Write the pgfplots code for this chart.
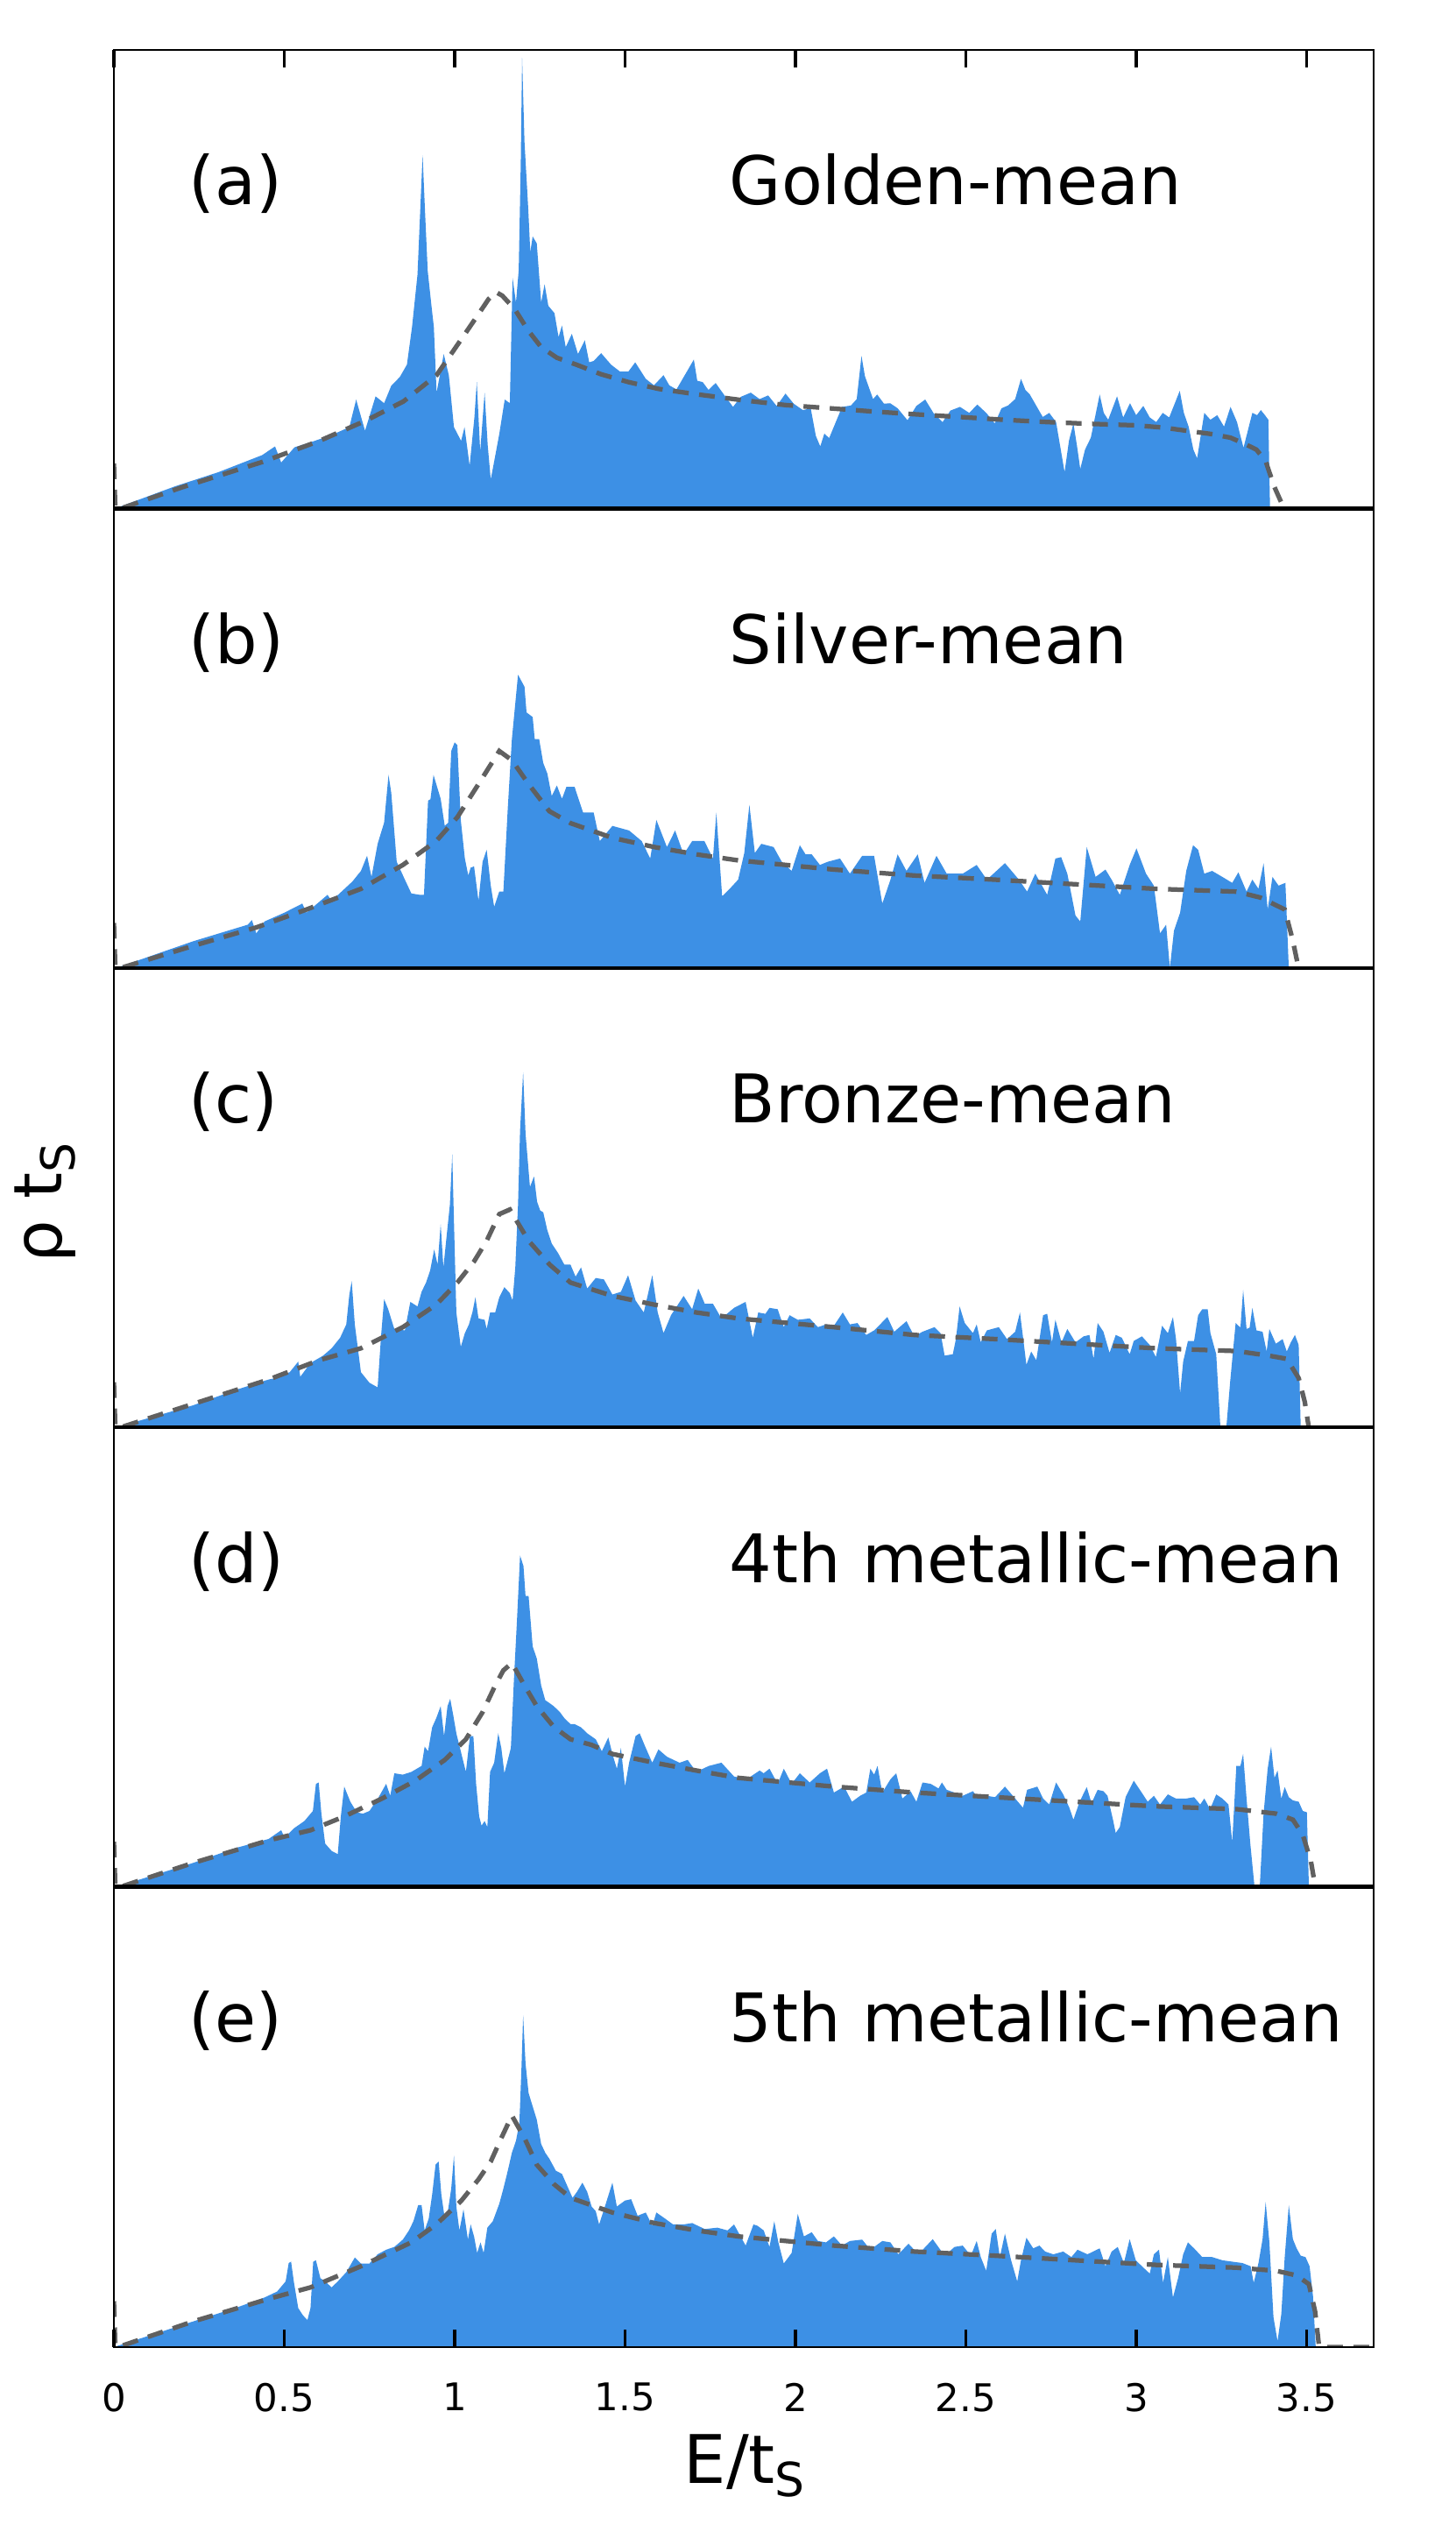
\documentclass[border=0pt]{standalone}
\usepackage{fontspec}
\setmainfont{DejaVu Sans}
\usepackage{pgfplots}
\usepackage{pgfplotstable}
\pgfplotsset{compat=1.18}

\definecolor{dosblue}{RGB}{61,144,229}
\definecolor{avggray}{RGB}{96,96,96}

% ---- panel (a) golden-mean ----
\pgfplotstableread{
x y
0 0
0.015 0.5
0.179 5.0
0.307 8.1
0.435 11.8
0.473 13.7
0.491 10.2
0.53 13.5
0.589 14.9
0.64 16.2
0.691 17.9
0.711 23.9
0.737 17.1
0.768 24.6
0.793 23.1
0.814 26.9
0.839 28.8
0.860 31.5
0.875 39.7
0.891 51.1
0.899 65
0.906 77.1
0.913 65
0.921 51.9
0.932 44.3
0.939 39.7
0.947 25.4
0.968 33.8
0.983 29.2
0.998 17.9
1.019 14.9
1.029 17.9
1.044 9.5
1.058 20
1.065 27.7
1.075 12.6
1.088 25.4
1.097 14
1.106 6.5
1.12 12
1.131 16.4
1.147 23.9
1.162 23.1
1.170 50.4
1.180 45
1.188 52
1.194 75
1.198 98.3
1.205 80
1.216 65.4
1.222 56
1.229 59.4
1.241 57.9
1.254 45.0
1.264 49
1.275 44.3
1.293 42.7
1.305 37.5
1.315 40
1.326 35.3
1.344 38.2
1.362 33.8
1.382 36.8
1.395 32
1.408 32.3
1.43 34
1.459 31.5
1.485 30
1.510 30.0
1.53 32
1.561 28.4
1.585 27
1.613 29.2
1.63 27
1.651 26.1
1.702 32.6
1.712 28
1.728 27.7
1.745 26
1.766 27.5
1.79 25
1.817 22.3
1.84 24.5
1.869 25.4
1.895 24
1.920 24.8
1.945 22.5
1.971 25.2
1.995 23
2.022 21.6
2.045 22
2.06 16
2.073 13.7
2.085 16.5
2.099 15.5
2.137 22.3
2.163 22.6
2.18 24
2.194 33.4
2.204 29
2.214 26.9
2.228 24
2.240 25
2.26 23
2.278 23.1
2.30 22
2.329 19.4
2.355 22.5
2.381 23.9
2.405 21
2.432 19
2.455 21.5
2.483 22.3
2.51 21
2.534 22.8
2.56 21
2.585 18.7
2.605 22
2.624 22.6
2.645 24
2.662 28.4
2.675 26
2.688 25
2.726 20.1
2.745 21
2.765 19
2.790 8.1
2.803 15
2.816 18.7
2.826 14
2.836 8.8
2.85 13
2.867 15.6
2.893 25.0
2.905 21
2.918 19.5
2.944 24.6
2.962 20
2.982 23.1
3.0 20.5
3.021 22.5
3.04 20
3.059 19
3.078 21
3.097 20
3.128 25.8
3.14 21
3.154 18
3.168 13
3.179 11.1
3.200 21.0
3.218 19.5
3.238 20.5
3.258 18
3.277 22.3
3.296 19
3.315 13.4
3.341 21
3.355 20.5
3.366 21.6
3.378 20.5
3.388 19.5
3.393 0
}\dosA
\pgfplotstableread{
x y
0 10
0.004 0.5
0.013 0
0.2 4.8
0.435 10.3
0.6 14.8
0.742 19.4
0.85 23.5
0.947 29.2
1.024 37.5
1.07 42.5
1.10 45.8
1.121 47.3
1.14 46.5
1.177 43.5
1.215 39
1.254 35.3
1.30 33
1.357 31.5
1.43 29.4
1.510 27.7
1.6 26.2
1.715 25.0
1.84 23.8
1.971 22.7
2.1 22
2.227 21.3
2.35 20.7
2.483 20.1
2.61 19.5
2.739 19.0
2.87 18.6
2.995 18.3
3.08 17.8
3.149 17.1
3.22 16.4
3.277 15.6
3.32 14.2
3.353 13.0
3.38 10.5
3.405 5
3.435 0
3.697 0
}\avgA

% ---- panel (b) silver-mean ----
\pgfplotstableread{
x y
0 0
0.012 0.3
0.233 6.0
0.393 9.6
0.405 10.6
0.418 7.7
0.442 10.3
0.50 12.2
0.553 14.2
0.565 12.2
0.627 16.1
0.639 14.8
0.70 19.0
0.725 21.3
0.743 24.6
0.756 20.0
0.774 27.2
0.793 31.8
0.806 42.2
0.814 38.3
0.83 23.3
0.854 19.4
0.873 16.4
0.897 16.1
0.91 16.1
0.922 36.6
0.929 36.9
0.938 42.2
0.959 37.0
0.971 31.1
0.981 31.8
0.99 47.4
1.0 49.3
1.008 48.7
1.018 32.4
1.03 24.0
1.04 20.3
1.047 22.0
1.057 22.3
1.07 14.8
1.082 23.3
1.094 25.9
1.106 18.1
1.116 13.5
1.131 16.8
1.143 16.8
1.156 35.0
1.168 50.0
1.186 64.0
1.205 61.4
1.211 55.8
1.229 54.8
1.235 50.0
1.248 50.0
1.26 44.8
1.272 42.5
1.285 37.6
1.3 39.9
1.315 37.0
1.328 39.6
1.352 39.6
1.377 34.0
1.408 34.0
1.426 27.8
1.463 31.1
1.512 30.1
1.549 27.8
1.574 24.0
1.592 32.4
1.623 26.5
1.647 30.1
1.672 24.9
1.697 27.8
1.733 27.8
1.758 24.0
1.768 34.0
1.785 15.8
1.807 17.4
1.832 19.4
1.85 25.2
1.865 35.7
1.881 25.2
1.9 27.2
1.936 26.5
1.96 23.3
1.989 21.3
2.013 26.9
2.03 24.9
2.048 24.9
2.072 22.6
2.095 23.3
2.131 24.0
2.16 20.7
2.196 24.6
2.231 24.6
2.255 14.2
2.279 19.4
2.3 24.9
2.326 21.3
2.359 24.9
2.379 18.7
2.414 24.6
2.444 20.7
2.491 20.7
2.532 22.6
2.562 19.4
2.615 23.0
2.656 19.4
2.68 16.8
2.704 20.7
2.739 16.1
2.763 24.0
2.78 24.3
2.798 20.7
2.822 11.6
2.836 10.3
2.855 26.5
2.881 20.0
2.91 21.6
2.928 19.4
2.952 16.1
2.981 22.6
3.001 26.2
3.029 20.7
3.052 18.1
3.07 7.7
3.088 9.6
3.099 0.2
3.111 8.3
3.129 12.2
3.147 21.3
3.167 26.9
3.182 25.9
3.2 20.7
3.223 21.3
3.253 20.0
3.282 18.7
3.3 21.0
3.324 16.8
3.341 19.4
3.359 17.4
3.374 23.0
3.386 12.9
3.4 20.0
3.418 18.1
3.438 18.7
3.448 0
}\dosB
\pgfplotstableread{
x y
0 10
0.004 0.5
0.012 0
0.233 5.0
0.418 9.0
0.565 12.9
0.725 17.4
0.848 22.6
0.946 27.8
1.008 33.0
1.07 40.2
1.131 47.4
1.168 45.4
1.217 40.2
1.278 34.3
1.34 31.7
1.463 28.5
1.586 26.5
1.71 24.9
1.832 23.6
2.113 21.6
2.35 20.3
2.586 19.4
2.821 18.4
3.058 17.4
3.294 16.8
3.365 15.5
3.436 12.9
3.459 6.4
3.477 0
3.697 0
}\avgB

% ---- panel (c) bronze-mean ----
\pgfplotstableread{
x y
0 0
0.012 0.3
0.233 5.0
0.356 8.3
0.454 10.6
0.473 10.9
0.516 12.2
0.541 14.5
0.547 11.2
0.577 14.2
0.614 15.8
0.639 17.4
0.664 19.7
0.682 22.6
0.691 29.1
0.698 32.0
0.707 22.6
0.725 12.2
0.75 9.9
0.774 8.9
0.784 20.0
0.793 28.1
0.805 25.9
0.823 21.6
0.854 21.3
0.87 27.5
0.891 26.5
0.903 29.7
0.916 31.7
0.928 34.3
0.94 38.9
0.95 35.6
0.959 44.4
0.967 35.0
0.977 42.2
0.986 48.6
0.993 59.6
0.998 45
1.005 25.2
1.018 17.7
1.03 20.7
1.042 22.6
1.052 25.2
1.061 28.5
1.07 23.9
1.088 23.6
1.094 21.6
1.104 25.2
1.119 25.2
1.131 28.5
1.146 30.7
1.162 29.4
1.17 27.8
1.178 35.0
1.186 48.6
1.192 64.8
1.201 77.5
1.208 64.2
1.221 52.5
1.233 54.8
1.242 49.3
1.251 47.4
1.26 47.0
1.272 43.1
1.285 40.2
1.303 38.2
1.322 35.6
1.34 35.6
1.355 33.0
1.371 35.0
1.389 30.4
1.414 32.7
1.438 32.4
1.463 29.1
1.488 29.7
1.509 33.3
1.531 27.8
1.555 25.2
1.58 33.3
1.596 25.2
1.613 20.7
1.635 24.6
1.672 28.8
1.697 25.9
1.715 30.4
1.734 27.1
1.758 27.1
1.783 23.9
1.82 26.2
1.854 27.5
1.875 19.7
1.891 25.2
1.912 24.9
1.924 26.2
1.948 25.9
1.966 22.0
1.983 24.6
2.007 23.6
2.042 23.9
2.066 22.0
2.09 22.6
2.113 22.3
2.139 25.2
2.16 22.6
2.182 22.9
2.208 20.3
2.231 21.3
2.27 24.2
2.29 21.0
2.326 23.3
2.349 20.0
2.373 21.0
2.408 22.0
2.426 20.7
2.438 15.8
2.462 16.1
2.471 19.4
2.482 26.5
2.497 22.9
2.521 20.7
2.532 22.6
2.544 18.7
2.562 21.3
2.597 22.0
2.621 19.4
2.645 21.0
2.659 25.2
2.678 13.8
2.692 16.7
2.707 14.8
2.727 24.6
2.739 24.9
2.753 18.7
2.763 23.6
2.781 18.7
2.798 21.6
2.822 18.7
2.846 20.0
2.863 20.3
2.875 15.1
2.887 22.9
2.904 21.0
2.922 16.4
2.94 20.3
2.958 19.7
2.981 16.1
2.993 19.0
3.017 20.0
3.04 18.1
3.058 15.5
3.076 22.3
3.093 20.7
3.108 24.2
3.117 19.4
3.129 7.6
3.138 14.5
3.152 19.0
3.17 19.0
3.182 24.6
3.194 25.9
3.21 25.9
3.218 20.7
3.235 16.1
3.247 0.5
3.265 0.5
3.276 10.2
3.292 22.9
3.306 21.9
3.314 30.1
3.324 21.6
3.333 21.9
3.341 26.2
3.353 21.3
3.371 21.0
3.383 16.7
3.391 21.6
3.41 18.4
3.43 19.4
3.442 16.7
3.454 18.7
3.466 20.3
3.477 18.1
3.483 0
}\dosC
\pgfplotstableread{
x y
0 10
0.004 0.5
0.012 0
0.233 5.3
0.454 10.6
0.602 14.8
0.725 17.4
0.848 22.0
0.946 26.9
1.008 31.7
1.057 36.3
1.094 40.8
1.131 46.6
1.162 47.6
1.217 40.8
1.279 35.6
1.34 31.7
1.463 28.8
1.586 26.9
1.709 25.2
1.832 23.9
2.113 22.0
2.35 20.3
2.586 19.4
2.822 18.4
3.058 17.4
3.294 16.8
3.389 15.8
3.442 15.1
3.477 10.9
3.495 5.7
3.507 0
3.697 0
}\avgC

% ---- panel (d) 4th metallic-mean ----
\pgfplotstableread{
x y
0 0
0.012 0.3
0.233 5.4
0.356 8.6
0.454 10.6
0.491 12.5
0.501 10.9
0.528 12.9
0.559 14.5
0.584 16.7
0.593 22.6
0.601 22.9
0.609 16.1
0.62 9.6
0.639 8.0
0.657 7.3
0.666 15.5
0.676 22.0
0.694 18.7
0.713 16.4
0.731 16.1
0.75 16.7
0.774 19.3
0.799 22.6
0.811 20.0
0.823 24.9
0.848 24.6
0.873 25.2
0.903 26.5
0.912 30.7
0.922 29.7
0.934 34.9
0.946 36.9
0.959 39.5
0.969 33.0
0.979 39.5
0.987 41.1
0.996 37.5
1.005 33.6
1.02 29.1
1.033 25.2
1.045 33.0
1.055 33.0
1.063 22.6
1.072 15.5
1.079 13.5
1.088 14.5
1.096 13.2
1.104 25.2
1.116 27.2
1.128 33.6
1.137 30.4
1.146 24.9
1.156 27.8
1.165 30.4
1.174 45.3
1.183 58.3
1.192 72.3
1.202 70.0
1.208 63.5
1.217 63.5
1.229 52.5
1.241 49.9
1.254 44.0
1.266 40.8
1.278 40.2
1.291 39.5
1.309 38.2
1.322 36.9
1.34 35.6
1.352 35.6
1.371 34.9
1.389 33.6
1.414 32.3
1.432 29.7
1.451 32.7
1.463 29.1
1.476 25.9
1.488 30.4
1.5 22.0
1.512 27.2
1.531 33.0
1.543 33.6
1.561 30.4
1.58 27.2
1.598 30.1
1.623 28.5
1.66 27.2
1.684 27.8
1.709 25.2
1.746 26.5
1.783 27.2
1.82 24.2
1.857 23.6
1.877 24.6
1.895 25.5
1.907 24.9
1.924 25.9
1.948 22.6
1.966 25.9
1.989 22.6
2.013 24.9
2.042 22.9
2.072 24.9
2.093 25.9
2.113 20.7
2.143 22.0
2.166 18.7
2.19 20.0
2.208 20.7
2.22 25.9
2.231 24.6
2.241 26.5
2.255 20.7
2.279 23.6
2.296 24.9
2.314 19.4
2.338 21.0
2.355 18.7
2.373 22.9
2.397 22.6
2.42 21.6
2.43 22.9
2.444 21.3
2.467 20.7
2.491 20.0
2.521 21.0
2.538 19.4
2.562 20.0
2.586 19.7
2.615 22.0
2.645 19.4
2.668 17.4
2.68 21.3
2.71 22.0
2.727 19.4
2.745 18.1
2.765 22.9
2.786 20.3
2.804 17.4
2.816 14.8
2.834 18.7
2.855 21.9
2.869 18.4
2.887 21.3
2.904 21.0
2.916 20.0
2.932 14.8
2.94 11.9
2.952 13.2
2.969 19.7
2.993 23.3
3.011 21.3
3.034 18.7
3.052 20.0
3.07 18.1
3.093 20.3
3.117 19.4
3.147 19.4
3.17 19.7
3.188 18.1
3.2 19.4
3.217 17.1
3.235 20.3
3.253 19.4
3.271 18.1
3.282 9.9
3.294 26.5
3.306 26.5
3.314 29.1
3.324 19.4
3.335 9.6
3.347 0.5
3.363 0.5
3.374 16.1
3.386 25.9
3.396 30.7
3.406 23.9
3.415 25.5
3.426 19.4
3.436 21.9
3.448 19.7
3.46 19.0
3.477 18.7
3.489 16.7
3.501 16.4
3.507 0
}\dosD
\pgfplotstableread{
x y
0 10
0.004 0.5
0.012 0
0.233 5.4
0.454 10.3
0.577 12.5
0.676 15.5
0.787 19.4
0.885 23.3
0.971 27.8
1.033 32.3
1.082 38.2
1.119 44.0
1.143 47.3
1.168 48.9
1.205 44.0
1.241 39.5
1.291 35.0
1.34 32.3
1.401 31.1
1.463 29.1
1.586 27.2
1.709 25.5
1.832 23.9
2.113 22.0
2.35 20.7
2.586 19.7
2.822 18.7
3.058 17.7
3.294 17.1
3.412 16.1
3.46 14.8
3.489 11.5
3.513 5.7
3.525 0.5
3.53 0
3.697 0
}\avgD

% ---- panel (e) 5th metallic-mean ----
\pgfplotstableread{
x y
0 0
0.012 0.3
0.233 5.6
0.356 8.5
0.442 10.8
0.479 12.1
0.504 14.3
0.513 18.3
0.52 18.6
0.528 14.3
0.541 8.5
0.555 6.9
0.568 5.9
0.577 8.5
0.585 18.6
0.593 18.9
0.606 15.0
0.62 14.3
0.639 13.0
0.657 14.3
0.682 16.3
0.707 19.5
0.725 18.2
0.75 18.2
0.774 20.2
0.799 21.2
0.823 21.8
0.848 23.4
0.866 25.4
0.879 27.4
0.893 30.9
0.903 30.9
0.912 25.4
0.924 28.0
0.934 33.2
0.944 39.7
0.953 40.4
0.961 33.2
0.971 28.0
0.981 30.0
0.99 34.5
0.998 41.7
1.005 30.6
1.014 25.4
1.026 30.0
1.039 23.4
1.047 26.7
1.057 24.1
1.066 20.5
1.076 22.8
1.085 20.5
1.096 26.0
1.112 27.4
1.131 31.2
1.143 34.5
1.156 38.4
1.168 42.3
1.18 44.9
1.19 48.8
1.196 60.5
1.201 72.2
1.208 61.8
1.217 55.3
1.229 52.4
1.241 49.5
1.254 44.2
1.266 42.3
1.278 41.0
1.297 38.4
1.315 37.7
1.334 34.5
1.346 32.5
1.359 33.8
1.375 35.8
1.389 33.8
1.402 30.6
1.414 29.6
1.424 26.7
1.438 29.9
1.463 35.8
1.476 30.6
1.5 31.9
1.518 32.2
1.537 28.6
1.561 29.3
1.58 26.4
1.592 29.3
1.617 28.0
1.641 26.7
1.672 26.7
1.697 27.0
1.734 25.7
1.771 26.0
1.801 25.4
1.82 26.7
1.854 22.1
1.877 26.7
1.889 26.4
1.907 25.4
1.924 21.8
1.938 27.4
1.95 22.8
1.966 18.2
1.989 20.5
2.007 29.0
2.025 24.1
2.048 25.0
2.066 23.1
2.09 22.8
2.113 24.1
2.137 22.1
2.16 23.1
2.196 23.4
2.22 21.2
2.255 23.1
2.279 22.8
2.302 20.2
2.332 22.5
2.361 20.2
2.403 23.5
2.438 19.9
2.467 21.8
2.491 22.1
2.515 19.9
2.532 23.1
2.544 19.6
2.56 16.6
2.576 24.7
2.588 25.7
2.6 19.6
2.615 24.7
2.633 18.9
2.651 14.3
2.662 18.9
2.678 23.8
2.698 21.5
2.716 22.1
2.733 20.8
2.757 20.2
2.786 20.8
2.81 19.6
2.828 21.2
2.857 20.2
2.893 21.5
2.91 17.6
2.928 20.8
2.946 21.8
2.964 18.3
2.981 23.5
2.999 18.9
3.017 17.6
3.04 16.0
3.052 20.2
3.067 21.2
3.079 14.0
3.093 19.6
3.108 10.8
3.123 15.0
3.138 20.2
3.152 22.8
3.17 21.5
3.194 19.6
3.223 19.6
3.253 18.9
3.282 18.6
3.312 18.3
3.336 17.6
3.345 14.0
3.359 18.3
3.371 23.5
3.38 31.6
3.391 22.8
3.403 6.5
3.415 1.3
3.426 7.2
3.436 19.6
3.448 30.9
3.46 23.5
3.471 21.5
3.483 19.9
3.497 19.6
3.509 17.6
3.519 11.1
3.527 0
}\dosE
\pgfplotstableread{
x y
0 10
0.004 0.5
0.012 0
0.233 5.6
0.454 10.5
0.577 13.0
0.725 17.6
0.873 22.8
0.946 26.7
1.02 31.9
1.07 36.5
1.106 40.4
1.137 45.5
1.168 50.4
1.205 45.5
1.241 39.7
1.291 35.5
1.34 32.5
1.401 30.9
1.463 29.3
1.586 27.0
1.709 25.4
1.832 24.1
2.113 22.1
2.35 20.8
2.586 19.9
2.822 18.9
3.058 17.9
3.294 17.3
3.412 16.6
3.471 15.6
3.507 13.7
3.525 7.8
3.536 0.7
3.54 0
3.697 0
}\avgE

\pgfplotsset{
  panel/.style={
    scale only axis, width=287.6pt, height=104.88pt,
    anchor=south west,
    xmin=0, xmax=3.697, ymin=0, ymax=100,
    ytick=\empty, xtick=\empty,
    tick align=inside, major tick length=4pt,
    axis line style={line width=0.5pt},
    xtick style={draw=black, line width=0.65pt},
    axis on top,
  },
  dos/.style={fill=dosblue, draw=none},
  avg/.style={avggray, line width=1.05pt, dash pattern=on 3.6pt off 2.4pt},
}
\tikzset{lbl/.style={anchor=base west, inner sep=0pt, font=\fontsize{15.3}{18}\selectfont}}
\newcommand{\xt}{0,0.5,1,1.5,2,2.5,3,3.5}

\begin{document}
\begin{tikzpicture}
% (a)
\begin{axis}[panel, at={(0,419.52pt)}, xtick=\xt, xticklabels=\empty, xtick pos=top]
\addplot[dos] table {\dosA} \closedcycle;
\addplot[avg] table {\avgA};
\draw[line width=1.3pt] (rel axis cs:0,0) -- (rel axis cs:1,0);
\node[lbl] at (rel axis cs:0.059,0.664) {(a)};
\node[lbl] at (rel axis cs:0.488,0.664) {Golden-mean};
\end{axis}
% (b)
\begin{axis}[panel, at={(0,314.64pt)}]
\addplot[dos] table {\dosB} \closedcycle;
\addplot[avg] table {\avgB};
\draw[line width=1.3pt] (rel axis cs:0,0) -- (rel axis cs:1,0);
\node[lbl] at (rel axis cs:0.059,0.664) {(b)};
\node[lbl] at (rel axis cs:0.488,0.664) {Silver-mean};
\end{axis}
% (c)
\begin{axis}[panel, at={(0,209.76pt)}]
\addplot[dos] table {\dosC} \closedcycle;
\addplot[avg] table {\avgC};
\draw[line width=1.3pt] (rel axis cs:0,0) -- (rel axis cs:1,0);
\node[lbl] at (rel axis cs:0.059,0.664) {(c)};
\node[lbl] at (rel axis cs:0.488,0.664) {Bronze-mean};
\end{axis}
% (d)
\begin{axis}[panel, at={(0,104.88pt)}]
\addplot[dos] table {\dosD} \closedcycle;
\addplot[avg] table {\avgD};
\draw[line width=1.3pt] (rel axis cs:0,0) -- (rel axis cs:1,0);
\node[lbl] at (rel axis cs:0.059,0.664) {(d)};
\node[lbl] at (rel axis cs:0.488,0.664) {4th metallic-mean};
\end{axis}
% (e)
\begin{axis}[panel, at={(0,0pt)}, xtick=\xt, xtick pos=bottom,
    xticklabel style={font=\fontsize{8.7}{10}\selectfont, yshift=-4.7pt},
    /pgf/number format/assume math mode=true]
\addplot[dos] table {\dosE} \closedcycle;
\addplot[avg] table {\avgE};
\node[lbl] at (rel axis cs:0.059,0.664) {(e)};
\node[lbl] at (rel axis cs:0.488,0.664) {5th metallic-mean};
\end{axis}
\node[anchor=base, font=\fontsize{15.3}{18}\selectfont] at (144.2pt,-31.2pt) {E/t\textsubscript{S}};
\node[rotate=90, font=\fontsize{15.3}{18}\selectfont] at (-15.6pt,261.4pt) {ρ t\textsubscript{S}};
\pgfresetboundingbox
\path[use as bounding box] (-26pt,-45.4pt) rectangle (306.2pt,535.8pt);
\end{tikzpicture}
\end{document}
